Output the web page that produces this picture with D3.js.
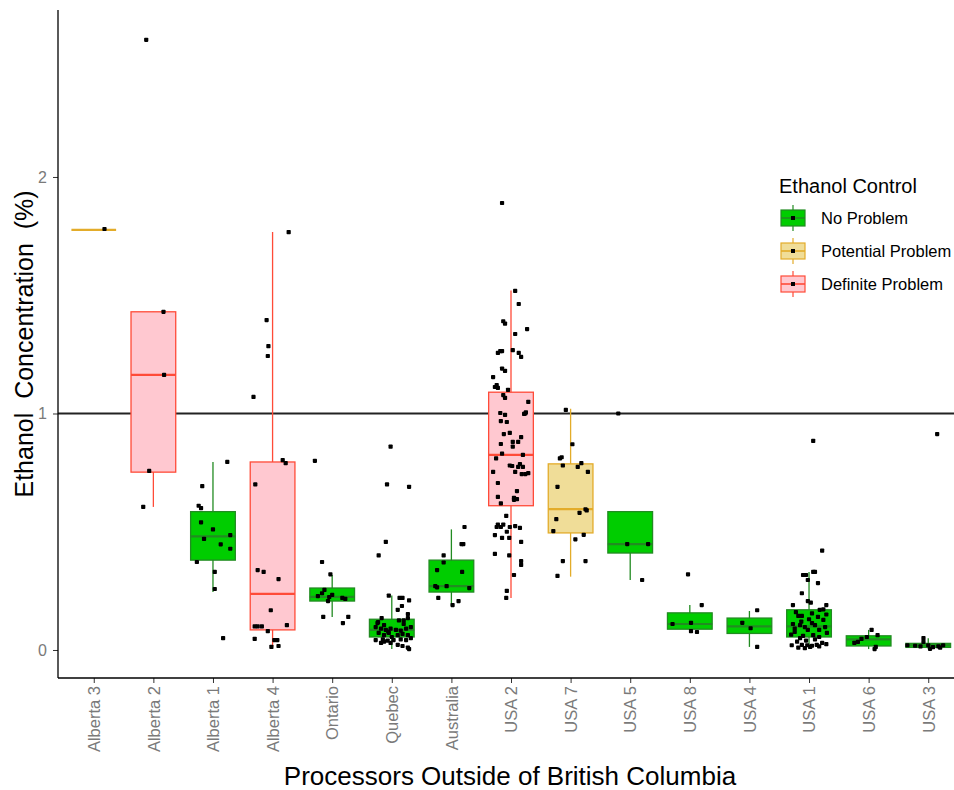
<!DOCTYPE html>
<html>
<head>
<meta charset="utf-8">
<script src="https://cdn.jsdelivr.net/npm/d3@7"></script>
<style>
  body { margin: 0; background: #fff; }
  svg { display: block; font-family: "Liberation Sans", Arial, sans-serif; }
</style>
</head>
<body>
<div id="svgContainer"><svg></svg></div>
<script>
// processors, in plotting order
const processors = ["Alberta 3", "Alberta 2", "Alberta 1", "Alberta 4", "Ontario", "Quebec", "Australia",
  "USA 2", "USA 7", "USA 5", "USA 8", "USA 4", "USA 1", "USA 6", "USA 3"];

// ethanol control class of each processor
const control = ["Potential Problem", "Definite Problem", "No Problem", "Definite Problem", "No Problem",
  "No Problem", "No Problem", "Definite Problem", "Potential Problem", "No Problem", "No Problem",
  "No Problem", "No Problem", "No Problem", "No Problem"];

const legendKeys = ["No Problem", "Potential Problem", "Definite Problem"];

// box stats: [lower whisker, Q1, median, Q3, upper whisker]
const boxStats = [
  [1.776, 1.776, 1.776, 1.776, 1.776],
  [0.605, 0.752, 1.163, 1.43, 1.43],
  [0.245, 0.38, 0.48, 0.585, 0.795],
  [0.013, 0.085, 0.237, 0.795, 1.767],
  [0.14, 0.207, 0.225, 0.262, 0.317],
  [0.004, 0.055, 0.085, 0.13, 0.23],
  [0.186, 0.245, 0.27, 0.38, 0.51],
  [0.22, 0.61, 0.825, 1.09, 1.52],
  [0.31, 0.495, 0.596, 0.787, 1.02],
  [0.296, 0.41, 0.448, 0.585, 0.585],
  [0.076, 0.088, 0.11, 0.157, 0.19],
  [0.013, 0.07, 0.10, 0.135, 0.165],
  [0.004, 0.055, 0.10, 0.17, 0.33],
  [0.004, 0.017, 0.045, 0.06, 0.085],
  [0.005, 0.011, 0.02, 0.028, 0.05]
];

// samples per processor: [ethanol %, jitter (fraction of a category step)]
const samples = [
  [[1.78, 0.18]],
  [[2.58, -0.12], [1.43, 0.17], [1.163, 0.18], [0.757, -0.07], [0.605, -0.17]],
  [[0.795, 0.24], [0.693, -0.18], [0.61, -0.24], [0.60, -0.2], [0.54, -0.2], [0.51, 0], [0.47, -0.15],
   [0.486, 0.29], [0.447, 0.13], [0.428, 0.29], [0.372, -0.27], [0.33, 0.03], [0.258, 0.03], [0.05, 0.17]],
  [[1.767, 0.27], [1.395, -0.1], [1.285, -0.07], [1.243, -0.08], [1.07, -0.32], [0.803, 0.17], [0.79, 0.22],
   [0.70, -0.29], [0.338, -0.25], [0.33, -0.15], [0.30, 0.1], [0.168, -0.03], [0.10, -0.3], [0.10, -0.25],
   [0.10, -0.18], [0.105, 0.24], [0.08, -0.08], [0.047, -0.3], [0.042, 0.03], [0.042, 0.08], [0.013, -0.02],
   [0.017, 0.1]],
  [[0.80, -0.29], [0.372, -0.17], [0.32, -0.03], [0.254, -0.13], [0.24, -0.17], [0.228, -0.24], [0.224, -0.05],
   [0.233, 0], [0.207, -0.07], [0.22, 0.17], [0.216, 0.22], [0.14, -0.15], [0.14, 0.27], [0.114, 0.18]],
  [[0.86, -0.02], [0.70, -0.08], [0.69, 0.29], [0.457, -0.1], [0.40, -0.22], [0.23, -0.05], [0.22, 0.13],
   [0.22, 0.18], [0.21, 0.29], [0.186, 0.17], [0.17, 0.1], [0.152, 0.27], [0.135, -0.17], [0.125, 0.12],
   [0.125, 0.2], [0.135, 0.27], [0.114, -0.24], [0.097, -0.27], [0.09, -0.18], [0.085, -0.1], [0.09, -0.02],
   [0.085, 0.07], [0.082, 0.15], [0.09, 0.24], [0.097, 0.32], [0.072, -0.22], [0.063, -0.13], [0.072, -0.05],
   [0.063, 0.1], [0.068, 0.18], [0.063, 0.27], [0.042, -0.27], [0.045, -0.15], [0.04, -0.07], [0.042, 0.03],
   [0.045, 0.15], [0.042, 0.24], [0.05, 0.32], [0.03, -0.18], [0.03, -0.02], [0.022, 0.1], [0.017, 0.18],
   [0.01, 0.27], [0.004, 0.29], [0.118, -0.23], [0.105, -0.13], [0.078, -0.06], [0.11, 0.2], [0.055, 0],
   [0.035, -0.13]],
  [[0.52, 0.22], [0.448, 0.17], [0.448, 0.2], [0.40, -0.13], [0.37, -0.13], [0.338, -0.24], [0.33, 0.18],
   [0.27, -0.27], [0.27, -0.08], [0.265, -0.24], [0.262, 0.3], [0.22, -0.22], [0.19, 0.02], [0.207, 0.12]],
  [[1.89, -0.15], [1.518, 0.07], [1.463, 0.13], [1.39, -0.13], [1.38, -0.1], [1.357, 0.27], [1.336, 0.07],
   [1.264, -0.18], [1.264, -0.15], [1.256, -0.22], [1.268, 0.03], [1.256, 0.13], [1.239, 0.17], [1.19, -0.15],
   [1.18, -0.1], [1.154, -0.3], [1.12, -0.24], [1.112, -0.27], [1.108, -0.22], [1.10, -0.05], [1.078, -0.13],
   [1.066, -0.1], [1.049, 0.29], [1.002, -0.18], [0.994, -0.1], [1.00, 0.24], [1.005, 0.25], [0.998, 0.22],
   [0.968, -0.17], [0.964, -0.07], [0.913, -0.12], [0.918, -0.02], [0.90, 0.17], [0.871, -0.17], [0.88, 0.03],
   [0.88, 0.12], [0.86, 0.03], [0.83, -0.15], [0.81, -0.25], [0.825, 0.2], [0.78, -0.02], [0.778, 0.02],
   [0.786, 0.15], [0.774, 0.2], [0.774, 0.12], [0.753, -0.3], [0.753, 0.07], [0.744, 0.18], [0.744, 0.24],
   [0.748, 0.29], [0.706, -0.22], [0.672, 0.1], [0.647, -0.22], [0.643, 0.05], [0.638, 0.1], [0.635, 0.05],
   [0.62, -0.17], [0.567, -0.08], [0.53, -0.22], [0.52, -0.17], [0.53, -0.13], [0.52, -0.24], [0.52, -0.02],
   [0.524, 0.07], [0.516, 0.15], [0.50, -0.07], [0.486, -0.27], [0.474, -0.15], [0.474, -0.03], [0.457, 0.17],
   [0.406, -0.27], [0.40, -0.03], [0.376, 0.17], [0.36, 0.17], [0.317, 0.05], [0.25, -0.07], [0.22, -0.08]],
  [[1.015, -0.08], [0.87, 0.03], [0.81, -0.18], [0.815, -0.15], [0.78, -0.13], [0.79, 0.18], [0.774, 0.12],
   [0.753, 0.29], [0.69, -0.22], [0.59, 0.27], [0.595, 0.25], [0.58, 0.15], [0.553, -0.24], [0.503, -0.29],
   [0.487, 0.22], [0.468, 0.08], [0.376, -0.13], [0.376, 0.25], [0.313, -0.22]],
  [[1.0, -0.2], [0.448, -0.05], [0.448, 0.3], [0.296, 0.2]],
  [[0.32, -0.03], [0.19, 0.2], [0.11, -0.29], [0.115, 0.02], [0.08, 0.02], [0.076, 0.12]],
  [[0.168, 0.13], [0.115, -0.12], [0.092, 0.02], [0.013, 0.13]],
  [[0.884, 0.07], [0.42, 0.22], [0.317, -0.1], [0.317, -0.05], [0.33, 0.07], [0.33, 0.1], [0.296, -0.02],
   [0.283, 0.15], [0.24, -0.12], [0.207, -0.02], [0.2, 0.03], [0.19, -0.27], [0.19, 0.29], [0.17, 0.18],
   [0.172, 0.24], [0.144, -0.18], [0.144, -0.12], [0.14, 0.15], [0.11, -0.27], [0.105, -0.15], [0.097, -0.07],
   [0.114, 0.05], [0.105, 0.1], [0.127, 0.24], [0.097, 0.27], [0.076, -0.24], [0.085, -0.02], [0.085, 0.17],
   [0.06, -0.1], [0.063, 0.07], [0.072, 0.3], [0.02, -0.29], [0.022, -0.12], [0.02, -0.03], [0.018, 0.05],
   [0.022, 0.13], [0.008, -0.07], [0.013, 0.02], [0.05, -0.15], [0.045, 0.1], [0.035, -0.2], [0.03, 0.22],
   [0.055, 0.17], [0.04, -0.05], [0.065, -0.3], [0.09, -0.24], [0.12, -0.13], [0.13, 0], [0.155, 0.05],
   [0.16, -0.22], [0.15, 0.29], [0.025, 0.29], [0.01, -0.18], [0.015, 0.17]],
  [[0.085, 0.05], [0.063, 0.15], [0.055, -0.03], [0.047, -0.12], [0.034, -0.18], [0.03, -0.24], [0.013, 0.12],
   [0.004, 0.1]],
  [[0.913, 0.15], [0.05, -0.08], [0.034, -0.08], [0.02, -0.35], [0.018, -0.22], [0.015, -0.13], [0.02, 0],
   [0.012, 0.08], [0.015, 0.17], [0.02, 0.25], [0.01, 0.2], [0.005, 0.03]]
];

const yTicks = [0, 1, 2];
const threshold = 1;

// chart dimensions
const width = 954;
const height = 790;
const marginTop = 10;
const marginLeft = 58;
const panelRight = 964;
const panelBottom = 678;

const x = d3.scalePoint()
    .domain(processors)
    .range([marginLeft, panelRight])
    .padding(0.6);

const y = d3.scaleLinear()
    .domain([-0.1184, 2.706])
    .range([panelBottom, marginTop]);

const fill = d3.scaleOrdinal()
    .domain(legendKeys)
    .range(["#00CD00", "#F0DD98", "#FFC8D0"]);
const stroke = d3.scaleOrdinal()
    .domain(legendKeys)
    .range(["#228B22", "#E3AC2A", "#FF4B38"]);

const boxW = x.step() * 0.75;

const svg = d3.select("#svgContainer").select("svg")
    .attr("width", width)
    .attr("height", height)
    .attr("viewBox", [0, 0, width, height]);

// reference line at 1 %
svg.append("line")
    .attr("x1", marginLeft).attr("x2", width)
    .attr("y1", y(threshold)).attr("y2", y(threshold))
    .attr("stroke", "#222")
    .attr("stroke-width", 2);

// boxplots
const rows = processors.map((p, i) => ({ p, cls: control[i], s: boxStats[i] }));
const box = svg.append("g")
  .selectAll("g")
  .data(rows)
  .join("g")
    .attr("transform", d => `translate(${x(d.p)},0)`);

box.append("line")   // whisker
    .attr("y1", d => y(d.s[0])).attr("y2", d => y(d.s[4]))
    .attr("stroke", d => stroke(d.cls))
    .attr("stroke-width", 1.3);

box.append("rect")
    .attr("x", -boxW / 2)
    .attr("width", boxW)
    .attr("y", d => y(d.s[3]))
    .attr("height", d => y(d.s[1]) - y(d.s[3]))
    .attr("fill", d => fill(d.cls))
    .attr("stroke", d => stroke(d.cls))
    .attr("stroke-width", 1.3);

box.append("line")   // median
    .attr("x1", -boxW / 2).attr("x2", boxW / 2)
    .attr("y1", d => y(d.s[2])).attr("y2", d => y(d.s[2]))
    .attr("stroke", d => stroke(d.cls))
    .attr("stroke-width", 2.2);

// jittered samples
const pts = samples.flatMap((arr, i) => arr.map(([v, j]) => ({ p: processors[i], v, j })));
svg.append("g")
  .selectAll("rect")
  .data(pts)
  .join("rect")
    .attr("x", d => x(d.p) + d.j * x.step() - 2.1)
    .attr("y", d => y(d.v) - 2.1)
    .attr("width", 4.2)
    .attr("height", 4.2)
    .attr("rx", 0.8)
    .attr("fill", "#000");

// y axis
svg.append("g")
    .attr("transform", `translate(${marginLeft},0)`)
    .call(d3.axisLeft(y).tickValues(yTicks).tickFormat(d3.format("d")).tickSize(5).tickPadding(6))
    .call(g => g.select(".domain").remove())
    .call(g => g.selectAll(".tick line").attr("stroke", "#333"))
    .call(g => g.selectAll(".tick text")
        .attr("fill", "#7a7a7a")
        .attr("font-size", 16)
        .attr("font-family", "Liberation Sans, Arial, sans-serif"));
svg.append("line")
    .attr("x1", marginLeft).attr("x2", marginLeft)
    .attr("y1", marginTop).attr("y2", panelBottom)
    .attr("stroke", "#000").attr("stroke-width", 1.3);

// x axis
svg.append("g")
    .attr("transform", `translate(0,${panelBottom})`)
    .call(d3.axisBottom(x).tickSize(5).tickSizeOuter(0))
    .call(g => g.select(".domain").remove())
    .call(g => g.selectAll(".tick line").attr("stroke", "#333"))
    .call(g => g.selectAll(".tick text")
        .attr("fill", "#7a7a7a")
        .attr("font-size", 16.5)
        .attr("font-family", "Liberation Sans, Arial, sans-serif")
        .attr("transform", "rotate(-90)")
        .attr("text-anchor", "end")
        .attr("dy", "0.35em")
        .attr("x", -8)
        .attr("y", 0));
svg.append("line")
    .attr("x1", marginLeft).attr("x2", width)
    .attr("y1", panelBottom).attr("y2", panelBottom)
    .attr("stroke", "#000").attr("stroke-width", 1.3);

// axis titles
svg.append("text")
    .attr("transform", `translate(33,${(marginTop + panelBottom) / 2}) rotate(-90)`)
    .attr("text-anchor", "middle")
    .attr("font-size", 25)
    .attr("fill", "#000")
    .style("white-space", "pre")
    .text("Ethanol  Concentration  (%)");

svg.append("text")
    .attr("x", (marginLeft + panelRight) / 2 - 1)
    .attr("y", 785)
    .attr("text-anchor", "middle")
    .attr("font-size", 26)
    .attr("fill", "#000")
    .text("Processors Outside of British Columbia");

// legend
const legend = svg.append("g")
    .attr("transform", "translate(779,0)");
legend.append("text")
    .attr("x", 0).attr("y", 193)
    .attr("font-size", 20)
    .attr("fill", "#000")
    .text("Ethanol Control");

legendKeys.forEach((k, i) => {
  const cy = 218 + i * 33;
  const item = legend.append("g").attr("transform", `translate(14,${cy})`);
  item.append("line")
      .attr("y1", -13).attr("y2", 13)
      .attr("stroke", stroke(k)).attr("stroke-width", 1.2);
  item.append("rect")
      .attr("x", -12).attr("y", -8)
      .attr("width", 24).attr("height", 16)
      .attr("fill", fill(k))
      .attr("stroke", stroke(k)).attr("stroke-width", 1.2);
  item.append("line")
      .attr("x1", -12).attr("x2", 12)
      .attr("stroke", stroke(k)).attr("stroke-width", 1.6);
  item.append("rect")
      .attr("x", -2).attr("y", -2).attr("width", 4).attr("height", 4)
      .attr("fill", "#000");
  legend.append("text")
      .attr("x", 42).attr("y", cy)
      .attr("dy", "0.35em")
      .attr("font-size", 16.5)
      .attr("fill", "#000")
      .text(k);
});
</script>
</body>
</html>
